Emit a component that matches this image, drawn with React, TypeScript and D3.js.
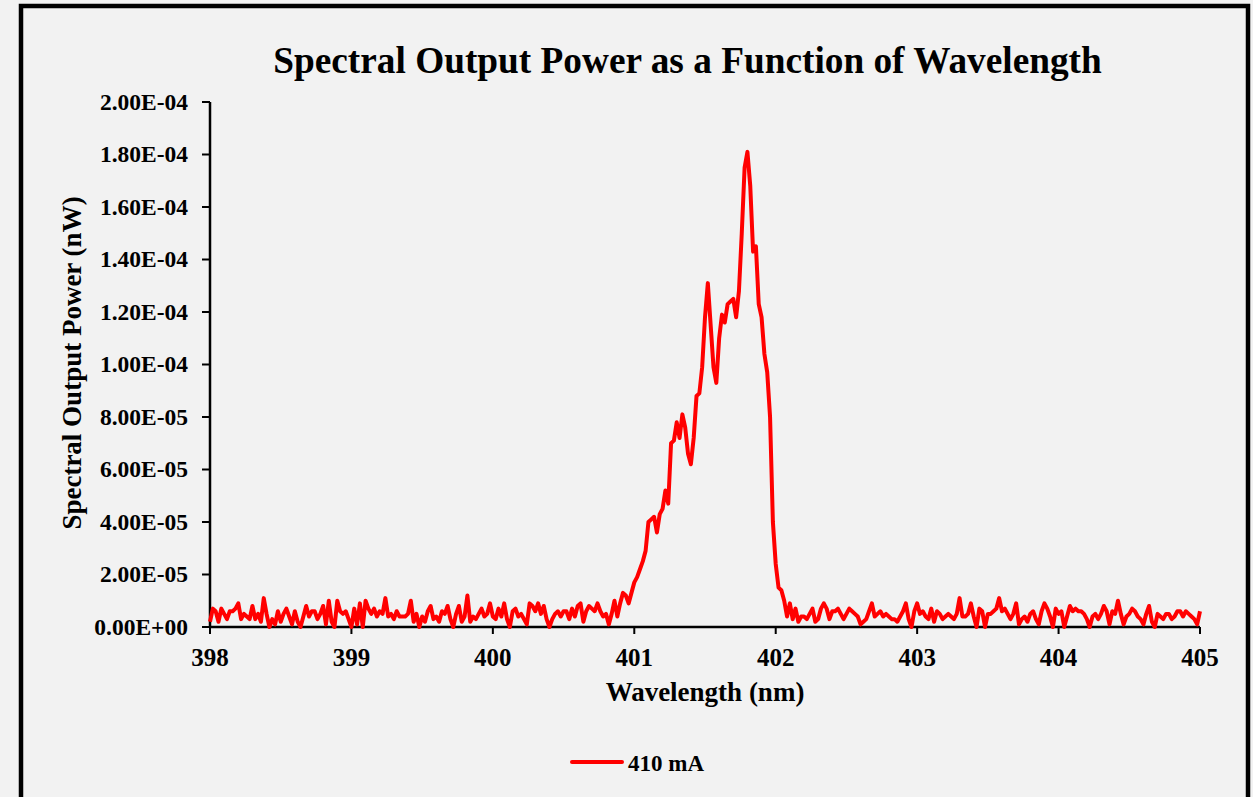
import React from "react";
import { scaleLinear, line, range } from "d3";

// spectrum sampled every 0.02 nm starting at 398 nm, power in units of 1e-6 nW
const wavelengthStart = 398;
const wavelengthStep = 0.02;

const baselineLeft = [
  2, 7, 6, 2, 7, 5, 3, 6, 6, 7,
  9, 3, 5, 4, 3, 8, 3, 5, 2, 11,
  5, 0, 3, 1, 6, 2, 5, 7, 4, 1,
  6, 2, 0, 4, 8, 4, 6, 6, 3, 5,
  8, 1, 10, 2, 0, 10, 6, 5, 6, 3,
  0, 7, 1, 9, 0, 10, 7, 5, 7, 4,
  6, 5, 11, 4, 5, 3, 6, 4, 4, 4,
  5, 10, 2, 5, 0, 4, 2, 6, 8, 3,
  4, 2, 6, 5, 8, 3, 0, 5, 8, 2,
  4, 12, 2, 4, 3, 5, 7, 4, 5, 9,
  4, 3, 7, 4, 9, 3, 0, 6, 7, 4,
  5, 3, 1, 9, 8, 6, 9, 5, 8, 3,
  0, 3, 5, 6, 4, 6, 6, 3, 7, 4,
  8, 9, 2, 6, 8, 7, 6, 9, 6, 4,
  5, 1, 5, 10, 4,
];

const peakRegion = [
  9, 13, 12, 9, 13, 17, 19, 22, 25, 29,
  40, 41, 42, 36, 43, 45, 52, 47, 70, 71,
  78, 72, 81, 76, 66, 62, 72, 88, 89, 99,
  118, 131, 115, 99, 93, 110, 119, 116, 123, 124,
  125, 118, 128, 150, 175, 181, 168, 143, 145, 123,
  118, 104, 97, 80, 40, 24, 15, 14, 10, 4,
  9,
];

const baselineRight = [
  3, 7, 2, 4, 4, 3, 5, 7, 2, 3,
  7, 9, 7, 3, 6, 6, 7, 5, 3, 5,
  7, 6, 5, 4, 1, 2, 3, 6, 9, 4,
  5, 6, 4, 5, 4, 3, 3, 2, 4, 6,
  9, 3, 0, 6, 9, 5, 6, 4, 3, 7,
  2, 6, 5, 3, 4, 5, 4, 3, 5, 11,
  4, 4, 5, 9, 4, 0, 7, 6, 0, 5,
  5, 6, 7, 11, 6, 7, 5, 3, 5, 9,
  1, 3, 4, 2, 5, 6, 3, 1, 6, 9,
  7, 4, 0, 7, 5, 6, 0, 4, 8, 6,
  7, 6, 6, 5, 3, 0, 4, 5, 3, 5,
  8, 6, 1, 6, 5, 10, 5, 1, 4, 5,
  7, 6, 4, 3, 1, 5, 8, 2, 0, 5,
  4, 3, 5, 5, 3, 4, 6, 6, 4, 6,
  5, 4, 3, 1, 6,
];

const xTicks = [398, 399, 400, 401, 402, 403, 404, 405];
const yTicks = [0, 2e-5, 4e-5, 6e-5, 8e-5, 1e-4, 1.2e-4, 1.4e-4, 1.6e-4, 1.8e-4, 2e-4];

const seriesName = "410 mA";
const title = "Spectral Output Power as a Function of Wavelength";
const xTitle = "Wavelength (nm)";
const yTitle = "Spectral Output Power (nW)";

const W = 1253;
const H = 797;
const FONT = "'Liberation Serif', 'Times New Roman', serif";

// excel style 2.00E-04
function sci(v: number) {
  if (v === 0) return "0.00E+00";
  const exp = Math.floor(Math.log10(v) + 1e-9);
  const mant = v / Math.pow(10, exp);
  const sign = exp < 0 ? "-" : "+";
  const e = String(Math.abs(exp)).padStart(2, "0");
  return mant.toFixed(2) + "E" + sign + e;
}

export default function App() {
  const power = [...baselineLeft, ...peakRegion, ...baselineRight];
  const data = range(power.length).map((i) => ({
    wl: wavelengthStart + i * wavelengthStep,
    p: power[i] * 1e-6,
  }));

  const x = scaleLinear().domain([398, 405]).range([210, 1200]);
  const y = scaleLinear().domain([0, 2e-4]).range([627, 102]);

  const path = line<{ wl: number; p: number }>()
    .x((d) => x(d.wl))
    .y((d) => y(d.p))(data);

  return (
    <div style={{ position: "absolute", left: 0, top: 0 }}>
      <svg width={W} height={H} style={{ display: "block" }} fontFamily={FONT}>
        <rect x={0} y={0} width={W} height={H} fill="#f2f2f2" />
        <rect x={21} y={6} width={1227} height={H + 20} fill="#f2f2f2" stroke="#000" strokeWidth={4.5} />

        <text x={687.5} y={73} textAnchor="middle" fontSize={37.3} fontWeight="bold">
          {title}
        </text>

        {/* y axis */}
        <line x1={x(398)} x2={x(398)} y1={y(2e-4)} y2={y(0)} stroke="#000" strokeWidth={2.5} />
        {yTicks.map((t) => (
          <g key={t}>
            <line x1={x(398) - 8} x2={x(398)} y1={y(t)} y2={y(t)} stroke="#000" strokeWidth={2} />
            <text x={188} y={y(t)} dy="0.34em" textAnchor="end" fontSize={23.5} fontWeight="bold">
              {sci(t)}
            </text>
          </g>
        ))}

        {/* x axis */}
        <line x1={x(398)} x2={x(405)} y1={y(0)} y2={y(0)} stroke="#000" strokeWidth={2.5} />
        {xTicks.map((t) => (
          <g key={t}>
            <line x1={x(t)} x2={x(t)} y1={y(0)} y2={y(0) + 7} stroke="#000" strokeWidth={2} />
            <text x={x(t)} y={666} textAnchor="middle" fontSize={25} fontWeight="bold">
              {t}
            </text>
          </g>
        ))}

        <path d={path || ""} fill="none" stroke="#ff0000" strokeWidth={4} strokeLinejoin="round" />

        <text x={705} y={701} textAnchor="middle" fontSize={27} fontWeight="bold">
          {xTitle}
        </text>
        <text
          transform={`translate(81,363) rotate(-90)`}
          textAnchor="middle"
          fontSize={27}
          fontWeight="bold"
        >
          {yTitle}
        </text>

        {/* legend */}
        <line x1={572} x2={622} y1={762} y2={762} stroke="#ff0000" strokeWidth={4} strokeLinecap="round" />
        <text x={628} y={770.5} fontSize={23} fontWeight="bold">
          {seriesName}
        </text>
      </svg>
    </div>
  );
}
